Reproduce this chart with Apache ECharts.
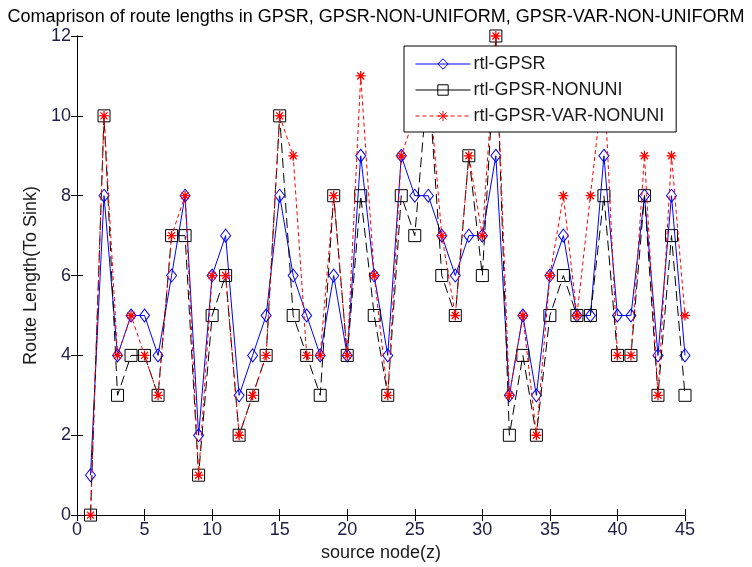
<!DOCTYPE html>
<html>
<head>
<meta charset="utf-8">
<script src="https://cdn.jsdelivr.net/npm/echarts@6/dist/echarts.min.js"></script>
<style>
  html, body { margin: 0; padding: 0; background: #fff; }
  #chart { width: 752px; height: 567px; }
</style>
</head>
<body>
<div id="chart"></div>
<script>
// Source node ids (x axis)
const nodes = [1, 2, 3, 4, 5, 6, 7, 8, 9, 10, 11, 12, 13, 14, 15, 16, 17, 18, 19, 20,
  21, 22, 23, 24, 25, 26, 27, 28, 29, 30, 31, 32, 33, 34, 35, 36, 37, 38, 39, 40,
  41, 42, 43, 44, 45];

// Route length to sink for each routing scheme
const gpsr = [1, 8, 4, 5, 5, 4, 6, 8, 2, 6, 7, 3, 4, 5, 8, 6, 5, 4, 6, 4,
  9, 6, 4, 9, 8, 8, 7, 6, 7, 7, 9, 3, 5, 3, 6, 7, 5, 5, 9, 5,
  5, 8, 4, 8, 4];
const gpsrNonUni = [0, 10, 3, 4, 4, 3, 7, 7, 1, 5, 6, 2, 3, 4, 10, 5, 4, 3, 8, 4,
  8, 5, 3, 8, 7, 11, 6, 5, 9, 6, 12, 2, 4, 2, 5, 6, 5, 5, 8, 4,
  4, 8, 3, 7, 3];
const gpsrVarNonUni = [0, 10, 4, 5, 4, 3, 7, 8, 1, 6, 6, 2, 3, 4, 10, 9, 4, 4, 8, 4,
  11, 6, 3, 9, 10, 11, 7, 5, 9, 7, 12, 3, 5, 2, 6, 8, 5, 8, 11, 4,
  4, 9, 3, 9, 5];

const seriesNames = ['rtl-GPSR', 'rtl-GPSR-NONUNI', 'rtl-GPSR-VAR-NONUNI'];
const xTicks = [0, 5, 10, 15, 20, 25, 30, 35, 40, 45];
const yTicks = [0, 2, 4, 6, 8, 10, 12];

// Asterisk marker drawn as stroked spokes
const starPath = 'path://M0,5L10,5M5,0L5,10M1.5,1.5L8.5,8.5M1.5,8.5L8.5,1.5';

const FONT = '"Liberation Sans", Arial, sans-serif';
const tickColor = '#1e1e46';

function pairs(vals) { return nodes.map((n, i) => [n, vals[i]]); }

const boxAxis = {
  axisLine: { show: true, lineStyle: { color: '#000', width: 1 } },
  axisTick: { show: true, inside: true, length: 6, lineStyle: { color: '#000' } },
  splitLine: { show: false },
  axisLabel: { show: false }
};

const chart = echarts.init(document.getElementById('chart'), null, { renderer: 'canvas' });

chart.setOption({
  animation: false,
  backgroundColor: '#fff',
  title: {
    text: 'Comaprison of route lengths in GPSR, GPSR-NON-UNIFORM, GPSR-VAR-NON-UNIFORM',
    left: 'center',
    top: 3,
    textStyle: { fontFamily: FONT, fontSize: 18, fontWeight: 'normal', color: '#000' }
  },
  grid: { left: 77, right: 67, top: 36, bottom: 51, containLabel: false },
  xAxis: [
    {
      type: 'value', min: xTicks[0], max: xTicks[xTicks.length - 1], interval: 5,
      name: 'source node(z)', nameLocation: 'middle', nameGap: 26,
      nameTextStyle: { fontFamily: FONT, fontSize: 18, color: '#1a1a1a' },
      axisLine: { show: true, onZero: false, lineStyle: { color: '#000', width: 1 } },
      axisTick: { show: true, inside: true, length: 6, lineStyle: { color: '#000' } },
      splitLine: { show: false },
      axisLabel: { fontFamily: FONT, fontSize: 18, color: tickColor, margin: 6 }
    },
    Object.assign({ type: 'value', position: 'top', min: 0, max: 45, interval: 5 }, boxAxis)
  ],
  yAxis: [
    {
      type: 'value', min: yTicks[0], max: yTicks[yTicks.length - 1], interval: 2,
      name: 'Route Length(To Sink)', nameLocation: 'middle', nameGap: 36,
      nameTextStyle: { fontFamily: FONT, fontSize: 18, color: '#1a1a1a' },
      axisLine: { show: true, onZero: false, lineStyle: { color: '#000', width: 1 } },
      axisTick: { show: true, inside: true, length: 6, lineStyle: { color: '#000' } },
      splitLine: { show: false },
      axisLabel: { fontFamily: FONT, fontSize: 18, color: tickColor, margin: 6 }
    },
    Object.assign({ type: 'value', position: 'right', min: 0, max: 12, interval: 2 }, boxAxis)
  ],
  legend: {
    orient: 'vertical',
    left: 404,
    top: 46,
    z: 20,
    padding: [8, 12, 6, 11],
    itemWidth: 55,
    itemHeight: 13,
    itemGap: 6,
    backgroundColor: '#fff',
    borderColor: '#000',
    borderWidth: 1,
    borderRadius: 0,
    lineStyle: { width: 1 },
    itemStyle: { borderWidth: 1 },
    textStyle: { fontFamily: FONT, fontSize: 18, color: '#1a1a1a', lineHeight: 20, padding: [0, 0, 0, -2] },
    data: [
      { name: seriesNames[0] },
      { name: seriesNames[1], lineStyle: { type: 'solid', width: 1 } },
      { name: seriesNames[2] }
    ]
  },
  series: [
    {
      name: seriesNames[0], type: 'line', data: pairs(gpsr),
      symbol: 'diamond', symbolSize: [10, 13],
      lineStyle: { color: '#0000ff', width: 1, type: 'solid' },
      itemStyle: { color: 'none', borderColor: '#0000ff', borderWidth: 1 },
      z: 2
    },
    {
      name: seriesNames[1], type: 'line', data: pairs(gpsrNonUni),
      symbol: 'rect', symbolSize: 12,
      lineStyle: { color: '#000000', width: 1, type: [10, 5] },
      itemStyle: { color: 'none', borderColor: '#000000', borderWidth: 1 },
      z: 3
    },
    {
      name: seriesNames[2], type: 'line', data: pairs(gpsrVarNonUni),
      symbol: starPath, symbolSize: 10,
      lineStyle: { color: '#ff0000', width: 1, type: [4, 3] },
      itemStyle: { color: '#ff0000', borderColor: '#ff0000', borderWidth: 1.3 },
      z: 4
    }
  ]
});
</script>
</body>
</html>
